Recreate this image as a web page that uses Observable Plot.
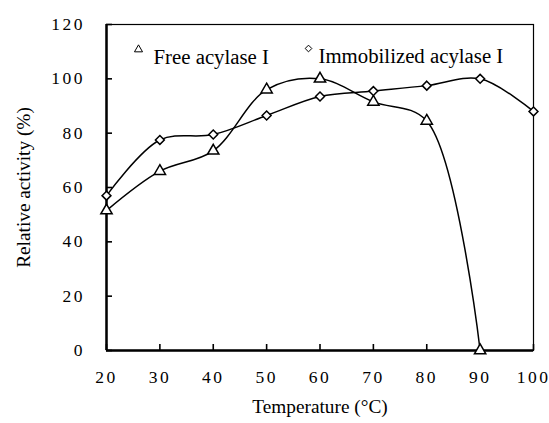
<!DOCTYPE html>
<html>
<head>
<meta charset="utf-8">
<script src="https://cdn.jsdelivr.net/npm/d3@7"></script>
<script src="https://cdn.jsdelivr.net/npm/@observablehq/plot@0.6"></script>
<style>
  html, body { margin: 0; padding: 0; background: #fff; }
  #chart g[aria-label="x-axis tick label"] text,
  #chart g[aria-label="y-axis tick label"] text { letter-spacing: 2.5px; }
</style>
</head>
<body>
<div id="chart"></div>
<script>
const temperatures = [20, 30, 40, 50, 60, 70, 80, 90, 100];
const freeTemps = [20, 30, 40, 50, 60, 70, 80, 90];
const freeActivity = [51.5, 66, 73.5, 96, 100, 91.5, 84.5, 0];
const immobTemps = [20, 30, 40, 50, 60, 70, 80, 90, 100];
const immobActivity = [57, 77.5, 79.5, 86.5, 93.5, 95.5, 97.5, 100, 88];
const xTicks = [20, 30, 40, 50, 60, 70, 80, 90, 100];
const yTicks = [0, 20, 40, 60, 80, 100, 120];
const seriesNames = ["Free acylase I", "Immobilized acylase I"];
const xTitle = "Temperature (°C)";
const yTitle = "Relative activity (%)";

const free = freeTemps.map((t, i) => ({t, v: freeActivity[i]}));
const immob = immobTemps.map((t, i) => ({t, v: immobActivity[i]}));
const serif = "Liberation Serif";

const W = 549, H = 423, ML = 106, MR = 16, MT = 24, MB = 73;

const chart = Plot.plot({
  width: W,
  height: H,
  marginLeft: ML,
  marginRight: MR,
  marginTop: MT,
  marginBottom: MB,
  style: {fontFamily: serif, fontSize: "17px", color: "#000", background: "#fff"},
  x: {domain: [20, 100]},
  y: {domain: [0, 120]},
  marks: [
    Plot.frame({stroke: "#000", strokeWidth: 1.2}),
    // tick labels
    Plot.axisX(xTicks, {tickSize: 0, tickPadding: 20, fontFamily: serif, fontSize: 17.5,
      fontVariant: "normal", label: null}),
    Plot.axisY(yTicks, {tickSize: 0, tickPadding: 21.5, fontFamily: serif, fontSize: 17.5,
      fontVariant: "normal", label: null}),
    // axis titles
    Plot.axisX(xTicks, {tickSize: 0, tickFormat: () => "", fontFamily: serif, fontSize: 19.3,
      label: xTitle, labelAnchor: "center", labelArrow: "none", labelOffset: 62}),
    Plot.axisY(yTicks, {tickSize: 0, tickFormat: () => "", fontFamily: serif, fontSize: 19.3,
      label: yTitle, labelAnchor: "center", labelArrow: "none", labelOffset: 90}),
    // inward tick marks
    Plot.tickX(xTicks, {x: d => d, stroke: "#000", strokeWidth: 1.6, insetTop: H - MT - MB - 6}),
    Plot.tickY(yTicks, {y: d => d, stroke: "#000", strokeWidth: 1.6, insetRight: W - ML - MR - 6}),
    Plot.ruleX([20], {strokeWidth: 2.5}),
    Plot.ruleY([0], {strokeWidth: 2.5}),
    Plot.line(free, {x: "t", y: "v", curve: "catmull-rom", stroke: "#000", strokeWidth: 1.5}),
    Plot.line(immob, {x: "t", y: "v", curve: "catmull-rom", stroke: "#000", strokeWidth: 1.5}),
    Plot.dot(free, {x: "t", y: "v", symbol: "triangle", r: 4.2, fill: "#fff", stroke: "#000", strokeWidth: 1.5}),
    Plot.dot(immob, {x: "t", y: "v", symbol: "diamond2", r: 4, fill: "#fff", stroke: "#000", strokeWidth: 1.5}),
    // legend
    Plot.dot([seriesNames[0]], {frameAnchor: "top-left", dx: 32, dy: 25, symbol: "triangle", r: 3, fill: "#fff", stroke: "#000", strokeWidth: 1}),
    Plot.text([seriesNames[0]], {frameAnchor: "top-left", dx: 47, dy: 25, text: d => d, textAnchor: "start", fontSize: 20.8, fontFamily: serif}),
    Plot.dot([seriesNames[1]], {frameAnchor: "top-left", dx: 202, dy: 24, symbol: "diamond2", r: 3, fill: "#fff", stroke: "#000", strokeWidth: 1}),
    Plot.text([seriesNames[1]], {frameAnchor: "top-left", dx: 212, dy: 24, text: d => d, textAnchor: "start", fontSize: 20.8, fontFamily: serif})
  ]
});
document.getElementById("chart").appendChild(chart);
</script>
</body>
</html>
